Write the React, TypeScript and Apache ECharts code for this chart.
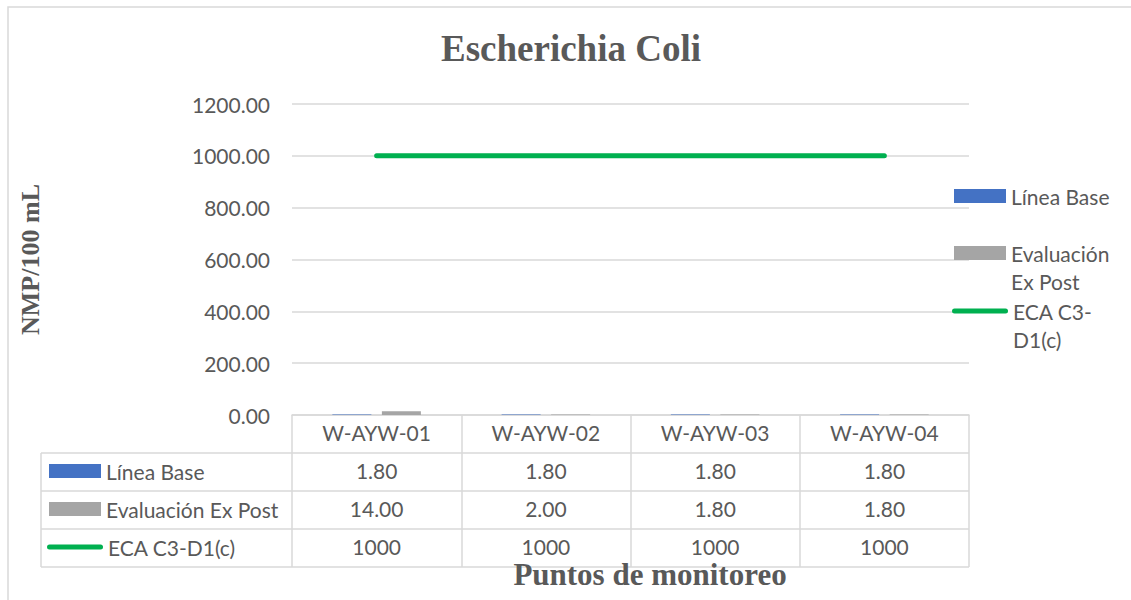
import React, { useEffect, useRef } from "react";
import * as echarts from "echarts";

const categories = ["W-AYW-01", "W-AYW-02", "W-AYW-03", "W-AYW-04"];
const lineaBase = [1.8, 1.8, 1.8, 1.8];
const exPost = [14, 2, 1.8, 1.8];
const eca = [1000, 1000, 1000, 1000];
const seriesNames = ["Línea Base", "Evaluación Ex Post", "ECA C3-D1(c)"];
const rightLegendLabels = ["Línea Base", "Evaluación\nEx Post", "ECA C3-\nD1(c)"];
const yMin = 0;
const yMax = 1200;
const yStep = 200;

const TEXT = "#595959";
const GRIDC = "#d9d9d9";
const SANS = "Lato";
const SERIF = "Liberation Serif";

// layout
const W = 1131;
const H = 600;
const PL = 292;
const PR = 969;
const PT = 104;
const PB = 415;
const ROW = 38;
const TABLE_LEFT = 41;
const LINE_ICON =
  "path://M2.5,0 L53.5,0 A2.5,2.5 0 0 1 53.5,5 L2.5,5 A2.5,2.5 0 0 1 2.5,0 Z";

export default function App() {
  const ref = useRef<HTMLDivElement>(null);
  useEffect(() => {
    if (!ref.current) return;
    const chart = echarts.init(ref.current, null, { renderer: "svg" });

    const rowLines = [1, 2, 3, 4].map((i) => ({
      type: "line",
      silent: true,
      shape: { x1: TABLE_LEFT, y1: PB + ROW * i, x2: PR, y2: PB + ROW * i },
      style: { stroke: GRIDC, lineWidth: 1.5 },
    }));

    const legendText = { color: TEXT, fontSize: 21, fontFamily: SANS, lineHeight: 28 };
    const colors = ["#4472C4", "#A5A5A5", "#00B050"];

    const mkLegend = (idx: number, left: number, centerY: number, label: string) => {
      const parts = label.split("\n");
      // keep the icon aligned with the first line: pad with an empty line on top
      const shown = parts.length > 1 ? ["", ...parts] : parts;
      const lines = shown.length;
      const boxH = Math.max(28, lines * 28);
      const isLine = idx === 2;
      const item: any = { name: seriesNames[idx], icon: isLine ? LINE_ICON : "rect" };
      return {
        data: [item],
        left: isLine ? left - 2 : left,
        top: centerY - boxH / 2,
        padding: 0,
        orient: "vertical",
        itemWidth: isLine ? 56 : 52,
        itemHeight: isLine ? 5 : 14,
        selectedMode: false,
        formatter: () => shown.join("\n"),
        textStyle: legendText,
      };
    };

    const option: any = {
      animation: false,
      backgroundColor: "#ffffff",
      color: colors,
      title: {
        text: "Escherichia Coli",
        left: 441,
        top: 30,
        padding: 0,
        textStyle: { fontFamily: SERIF, fontWeight: "bold", fontSize: 37, color: TEXT },
      },
      legend: [
        mkLegend(0, 954, 196, rightLegendLabels[0]),
        mkLegend(1, 954, 253, rightLegendLabels[1]),
        mkLegend(2, 954, 311, rightLegendLabels[2]),
        mkLegend(0, 49, PB + ROW * 1.5 - 1, seriesNames[0]),
        mkLegend(1, 49, PB + ROW * 2.5 - 1, seriesNames[1]),
        mkLegend(2, 49, PB + ROW * 3.5 - 1, seriesNames[2]),
      ],
      grid: {
        left: PL,
        right: W - PR,
        top: PT,
        bottom: H - PB,
        containLabel: false,
        outerBoundsMode: "none",
      },
      xAxis: {
        type: "category",
        data: categories,
        boundaryGap: true,
        name: "Puntos de monitoreo",
        nameLocation: "middle",
        nameGap: 153,
        nameMoveOverlap: false,
        nameTextStyle: {
          fontFamily: SERIF,
          fontWeight: "bold",
          fontSize: 31,
          lineHeight: 12,
          color: TEXT,
          padding: [0, 0, 0, 39],
        },
        axisLine: { show: true, lineStyle: { color: GRIDC, width: 1.5 } },
        axisTick: { show: true, interval: 0, length: ROW * 4, lineStyle: { color: GRIDC, width: 1.5 } },
        axisLabel: {
          interval: 0,
          margin: -2,
          color: TEXT,
          fontSize: 21,
          fontFamily: SANS,
          lineHeight: ROW,
          formatter: (v: string, i: number) =>
            [v, lineaBase[i].toFixed(2), exPost[i].toFixed(2), String(eca[i])].join("\n"),
        },
      },
      yAxis: {
        type: "value",
        min: yMin,
        max: yMax,
        interval: yStep,
        name: "NMP/100 mL",
        nameLocation: "middle",
        nameGap: 249,
        nameMoveOverlap: false,
        nameTextStyle: { fontFamily: SERIF, fontWeight: "bold", fontSize: 26, color: TEXT },
        axisLine: { show: false },
        axisTick: { show: false },
        axisLabel: {
          margin: 22,
          color: TEXT,
          fontSize: 21,
          fontFamily: SANS,
          formatter: (v: number) => v.toFixed(2),
        },
        splitLine: { lineStyle: { color: GRIDC, width: 1.5 } },
      },
      series: [
        {
          name: seriesNames[0],
          type: "bar",
          data: lineaBase,
          barWidth: 39,
          barGap: "27%",
          itemStyle: { color: colors[0] },
        },
        {
          name: seriesNames[1],
          type: "bar",
          data: exPost,
          barWidth: 39,
          barGap: "27%",
          itemStyle: { color: colors[1] },
        },
        {
          name: seriesNames[2],
          type: "line",
          data: eca,
          symbol: "none",
          showSymbol: false,
          z: 5,
          lineStyle: { color: colors[2], width: 5, cap: "round" },
          itemStyle: { color: colors[2] },
        },
      ],
      graphic: [
        {
          type: "rect",
          silent: true,
          z: -10,
          shape: { x: 8, y: 7, width: 1300, height: 700 },
          style: { fill: "none", stroke: GRIDC, lineWidth: 1.5 },
        },
        {
          type: "line",
          silent: true,
          shape: { x1: TABLE_LEFT, y1: PB + ROW, x2: TABLE_LEFT, y2: PB + ROW * 4 },
          style: { stroke: GRIDC, lineWidth: 1.5 },
        },
        ...rowLines,
      ],
    };

    chart.setOption(option);
    return () => chart.dispose();
  }, []);

  return (
    <div
      ref={ref}
      style={{ position: "absolute", left: 0, top: 0, width: W, height: H, background: "#fff" }}
    />
  );
}
